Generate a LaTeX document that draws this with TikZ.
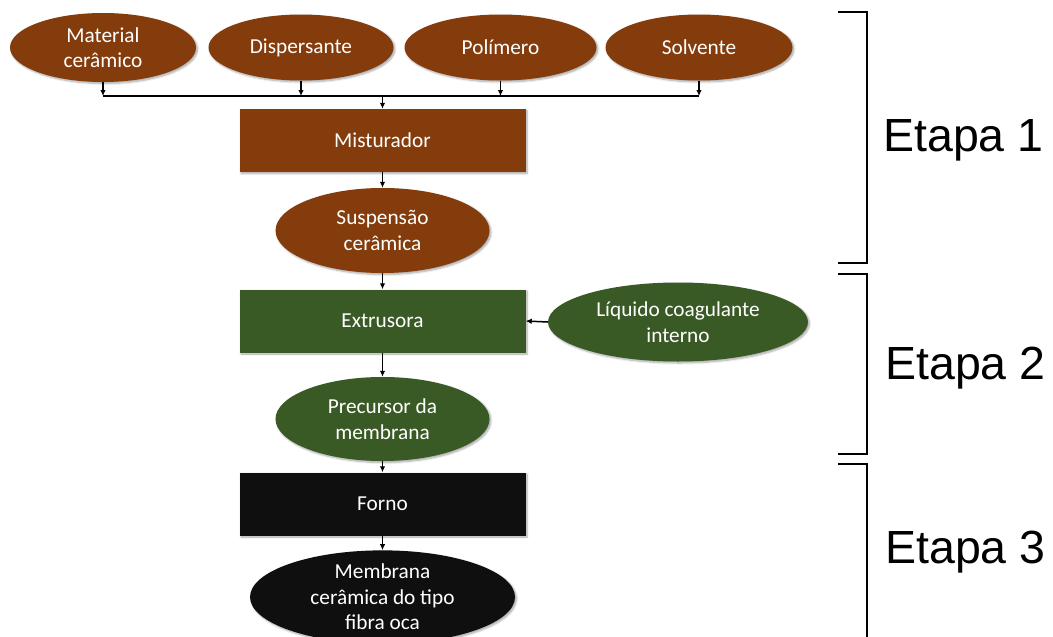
\documentclass[tikz,border=0pt]{standalone}
\usepackage{fontspec}
\setmainfont{Carlito}
\newfontfamily\etapafont{Liberation Sans}
\usetikzlibrary{shapes.geometric,arrows.meta,shadows.blur}

\definecolor{brownfill}{HTML}{843C0C}
\definecolor{greenfill}{HTML}{3A5A25}
\definecolor{darkfill}{HTML}{0F0F0F}

\tikzset{
  base/.style={text=white, align=center, inner sep=0pt,
    font=\fontsize{21.3}{25.5}\selectfont,
    blur shadow={shadow xshift=1.5pt, shadow yshift=-1.5pt,
      shadow blur steps=6, shadow opacity=35}},
  procbox/.style={base, rectangle, minimum width=286pt, minimum height=63pt},
  oval/.style={base, ellipse},
  arr/.style={-{Latex[length=6pt,width=5.5pt]}, line width=1.5pt},
  link/.style={line width=1.5pt},
  bracket/.style={line width=1.4pt},
  etapa/.style={anchor=west, inner sep=0pt, font=\etapafont\fontsize{46.5}{50}\selectfont}
}

\begin{document}
\begin{tikzpicture}[x=1pt, y=-1pt]
\useasboundingbox (0,0) rectangle (1053,637);

% raw materials
\node[oval, fill=brownfill, minimum width=186pt, minimum height=69pt] (mat)  at (103,47.5) {Material\\cerâmico};
\node[oval, fill=brownfill, minimum width=185pt, minimum height=66pt] (disp) at (301,47.5) {Dispersante};
\node[oval, fill=brownfill, minimum width=192pt, minimum height=66pt] (pol)  at (500.5,47.5) {Polímero};
\node[oval, fill=brownfill, minimum width=187pt, minimum height=66pt] (solv) at (699,47.5) {Solvente};

% main line
\node[procbox, fill=brownfill] (mist) at (382.5,140.5) {Misturador};
\node[oval, fill=brownfill, minimum width=214pt, minimum height=85pt] (susp) at (382.5,230.5) {Suspensão\\cerâmica};
\node[procbox, fill=greenfill] (extr) at (382.5,321) {Extrusora};
\node[oval, fill=greenfill, minimum width=260pt, minimum height=79pt] (liq) at (678,322) {Líquido coagulante\\interno};
\node[oval, fill=greenfill, minimum width=214pt, minimum height=84pt] (prec) at (382.5,419) {Precursor da\\membrana};
\node[procbox, fill=darkfill] (forno) at (382.5,504) {Forno};
\node[oval, fill=darkfill, minimum width=265pt, minimum height=88pt] (memb) at (382.5,597) {Membrana\\cerâmica do tipo\\fibra oca};

% collecting bus
\coordinate (bus) at (0,96);
\draw[arr] (mat.south)  -- (mat.south |- bus);
\draw[arr] (disp.south) -- (disp.south |- bus);
\draw[arr] (pol.south)  -- (pol.south |- bus);
\draw[arr] (solv.south) -- (solv.south |- bus);
\draw[link] (mat.south |- bus) -- (solv.south |- bus);
\draw[arr] (mist.north |- bus) -- (mist.north);

% flow
\draw[arr] (mist.south)  -- (susp.north);
\draw[arr] (susp.south)  -- (extr.north);
\draw[arr] (liq.west)    -- (extr.east);
\draw[arr] (extr.south)  -- (prec.north);
\draw[arr] (prec.south)  -- (forno.north);
\draw[arr] (forno.south) -- (memb.north);

% stage brackets
\draw[bracket] (838,12)  -- (867,12)  -- (867,263) -- (838,263);
\draw[bracket] (838,274) -- (867,274) -- (867,454) -- (838,454);
\draw[bracket] (838,464) -- (867,464) -- (867,645);

\node[etapa] (e1) at (883,140) {Etapa 1};
\node[etapa] (e2) at (885,368) {Etapa 2};
\node[etapa] (e3) at (885,552) {Etapa 3};
\end{tikzpicture}
\end{document}
